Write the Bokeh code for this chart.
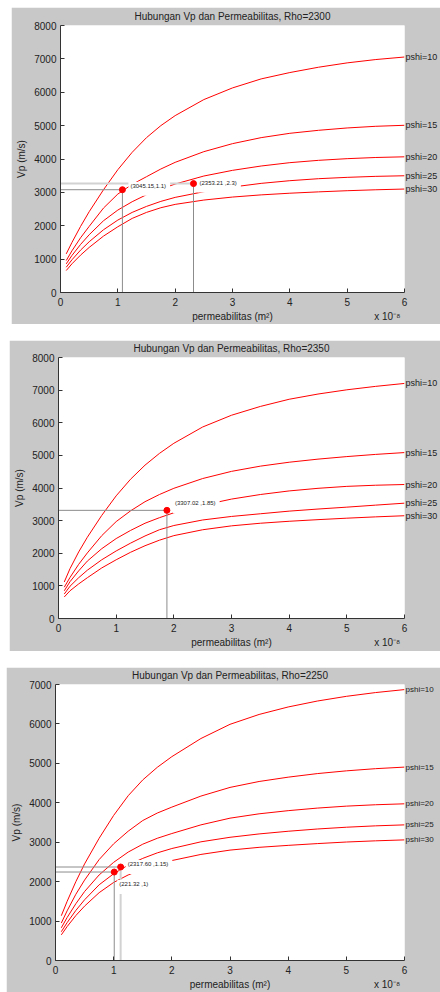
from bokeh.plotting import figure
from bokeh.layouts import column
from bokeh.models import Range1d, FixedTicker, Label, LinearAxis
from bokeh.embed import file_html
from bokeh.resources import INLINE

# ---------------- data ----------------
# permeability in units of 1e-8 m^2
perm = [0.1, 0.2, 0.35, 0.5, 0.75, 1.0, 1.25, 1.5, 1.75, 2.0, 2.5, 3.0, 3.5, 4.0, 4.5, 5.0, 5.5, 6.0]
pshi_names = ["pshi=10", "pshi=15", "pshi=20", "pshi=25", "pshi=30"]
x_ticks = [0, 1, 2, 3, 4, 5, 6]
y_ticks_8000 = [0, 1000, 2000, 3000, 4000, 5000, 6000, 7000, 8000]
y_ticks_7000 = [0, 1000, 2000, 3000, 4000, 5000, 6000, 7000]
x_title = "permeabilitas (m²)"
x_scale_note = "x 10⁻⁸"
y_title = "Vp (m/s)"

# Rho = 2300
vp2300_p10 = [1157, 1500, 1980, 2420, 3080, 3680, 4200, 4640, 5000, 5300, 5780, 6130, 6400, 6590, 6750, 6880, 6980, 7056]
vp2300_p15 = [957, 1250, 1640, 1980, 2530, 2950, 3240, 3470, 3700, 3900, 4220, 4460, 4640, 4770, 4860, 4930, 4980, 5010]
vp2300_p20 = [858, 1110, 1440, 1730, 2150, 2470, 2720, 2930, 3100, 3250, 3490, 3660, 3790, 3890, 3960, 4010, 4045, 4066]
vp2300_p25 = [757, 980, 1270, 1520, 1880, 2170, 2400, 2580, 2730, 2850, 3020, 3160, 3270, 3350, 3410, 3450, 3480, 3498]
vp2300_p30 = [658, 860, 1120, 1350, 1690, 1970, 2220, 2400, 2540, 2640, 2770, 2860, 2925, 2975, 3015, 3050, 3078, 3100]
pts2300_k = [1.08, 2.32]
pts2300_vp = [3080, 3263]
pts2300_txt = ["(3045.15,1.1)", "(2353.21 ,2.3)"]

# Rho = 2350
vp2350_p10 = [1120, 1530, 2040, 2490, 3160, 3760, 4270, 4700, 5060, 5370, 5870, 6230, 6500, 6720, 6880, 7010, 7115, 7205]
vp2350_p15 = [960, 1260, 1660, 2010, 2540, 2970, 3300, 3580, 3800, 3990, 4290, 4510, 4670, 4790, 4885, 4963, 5030, 5086]
vp2350_p20 = [850, 1130, 1460, 1760, 2140, 2450, 2700, 2920, 3090, 3240, 3470, 3660, 3800, 3910, 3990, 4050, 4085, 4107]
vp2350_p25 = [750, 990, 1250, 1480, 1800, 2070, 2310, 2530, 2720, 2850, 3020, 3128, 3210, 3291, 3355, 3413, 3475, 3535]
vp2350_p30 = [660, 850, 1060, 1250, 1550, 1800, 2030, 2230, 2400, 2540, 2720, 2840, 2920, 2980, 3030, 3075, 3115, 3150]
pts2350_k = [1.88]
pts2350_vp = [3315]
pts2350_txt = ["(3307.02 ,1.85)"]

# Rho = 2250
vp2250_p10 = [1136, 1500, 2000, 2450, 3100, 3680, 4180, 4580, 4900, 5170, 5630, 5990, 6240, 6430, 6580, 6700, 6795, 6871]
vp2250_p15 = [950, 1260, 1680, 2040, 2560, 2960, 3280, 3550, 3740, 3890, 4170, 4390, 4540, 4650, 4740, 4810, 4865, 4905]
vp2250_p20 = [830, 1090, 1440, 1750, 2170, 2490, 2750, 2950, 3100, 3220, 3440, 3610, 3720, 3800, 3865, 3915, 3950, 3974]
vp2250_p25 = [730, 960, 1270, 1540, 1920, 2200, 2420, 2590, 2730, 2840, 3010, 3125, 3210, 3278, 3335, 3380, 3415, 3440]
vp2250_p30 = [650, 860, 1140, 1380, 1720, 1980, 2170, 2320, 2440, 2535, 2690, 2800, 2870, 2920, 2965, 3005, 3035, 3059]
pts2250_k = [1.01, 1.12]
pts2250_vp = [2244, 2371]
pts2250_txt = ["(221.32 ,1)", "(2317.60 ,1.15)"]

# ---------------- style ----------------
GREY = "#c8c8c8"
FONT = "Liberation Sans"
RED = "#ff0000"
DARK_LINE = "#8c8c8c"
LIGHT_LINE = "#d2d2d2"
TXT = "#222222"


def bare_axis(ax, size):
    ax.axis_line_color = None
    ax.major_tick_line_color = None
    ax.minor_tick_line_color = None
    ax.major_tick_in = 0
    ax.major_tick_out = 0
    ax.axis_label_standoff = 0
    ax.major_label_text_font = FONT
    ax.major_label_text_font_size = size
    ax.major_label_text_color = TXT


def panel(rho, curves, ymax, yticks, pk, pvp, ptxt, hstyle, vstyle, offsets,
          w, h, borders, margin, pshi_size):
    left, right, top, bottom = borders
    p = figure(width=w, height=h, x_range=Range1d(0, 6), y_range=Range1d(0, ymax),
               output_backend="svg", toolbar_location=None,
               min_border_left=left, min_border_right=right,
               min_border_top=top, min_border_bottom=bottom,
               background_fill_color="white", border_fill_color=GREY,
               outline_line_color=None, margin=margin)
    p.title.text = f"Hubungan Vp dan Permeabilitas, Rho={rho}"
    p.title.align = "center"
    p.title.vertical_align = "top"
    p.title.text_font = FONT
    p.title.text_font_size = "10px"
    p.title.text_font_style = "normal"
    p.title.text_color = TXT
    p.title.standoff = 4
    p.xgrid.visible = False
    p.ygrid.visible = False

    xax = p.xaxis[0]
    yax = p.yaxis[0]
    for ax in (xax, yax):
        ax.major_tick_in = 4
        ax.major_tick_out = 0
        ax.minor_tick_line_color = None
        ax.axis_line_color = "#333333"
        ax.major_tick_line_color = "#333333"
        ax.major_label_text_font = FONT
        ax.major_label_text_font_size = "10px"
        ax.major_label_text_color = TXT
        ax.axis_label_text_font = FONT
        ax.axis_label_text_font_size = "10px"
        ax.axis_label_text_font_style = "normal"
        ax.axis_label_text_color = TXT
    xax.ticker = FixedTicker(ticks=x_ticks)
    yax.ticker = FixedTicker(ticks=yticks)
    yax.axis_label = y_title
    xax.major_label_standoff = 5
    yax.major_label_standoff = 4
    yax.axis_label_standoff = 4

    # second row under the x axis: axis title (centred) and the scale note
    bax = LinearAxis(ticker=FixedTicker(ticks=[3, 5.7]),
                     major_label_overrides={3: x_title, 5.7: x_scale_note})
    bare_axis(bax, "10px")
    bax.major_label_standoff = 2
    p.add_layout(bax, "below")

    # curve-end labels as a bare right axis
    ends = [vals[-1] for vals in curves]
    rax = LinearAxis(ticker=FixedTicker(ticks=ends),
                     major_label_overrides={e: n for e, n in zip(ends, pshi_names)})
    bare_axis(rax, pshi_size)
    rax.major_label_standoff = 1
    p.add_layout(rax, "right")

    for vals in curves:
        p.line(perm, vals, line_color=RED, line_width=1)

    for i, (k, v) in enumerate(zip(pk, pvp)):
        hc, hw = hstyle[i]
        vc, vw = vstyle[i]
        p.line([0, k], [v, v], line_color=hc, line_width=hw)
        p.line([k, k], [0, v], line_color=vc, line_width=vw)

    for (k, v, t, (dx, dy)) in zip(pk, pvp, ptxt, offsets):
        p.add_layout(Label(x=k, y=v, text=t, x_offset=dx, y_offset=dy,
                           text_align="left", text_baseline="middle",
                           text_font=FONT, text_font_size="6px", text_color=TXT,
                           background_fill_color="white",
                           padding=dict(left=2, right=4, top=1, bottom=7)))

    pts = p.scatter(pk, pvp, size=6, fill_color=RED, line_color=RED)
    pts.level = "overlay"
    return p


p1 = panel(2300, [vp2300_p10, vp2300_p15, vp2300_p20, vp2300_p25, vp2300_p30],
           8000, y_ticks_8000, pts2300_k, pts2300_vp, pts2300_txt,
           [(DARK_LINE, 1), (LIGHT_LINE, 2)], [(DARK_LINE, 1), (DARK_LINE, 1)],
           [(6, 1), (4, -2)],
           429, 317, (47, 34, 18, 32), (7, 0, 0, 11), "9px")

p2 = panel(2350, [vp2350_p10, vp2350_p15, vp2350_p20, vp2350_p25, vp2350_p30],
           8000, y_ticks_8000, pts2350_k, pts2350_vp, pts2350_txt,
           [(DARK_LINE, 1)], [(DARK_LINE, 1)],
           [(6, 4)],
           431, 311, (49, 35, 17, 33), (16, 0, 0, 9), "9px")

p3 = panel(2250, [vp2250_p10, vp2250_p15, vp2250_p20, vp2250_p25, vp2250_p30],
           7000, y_ticks_7000, pts2250_k, pts2250_vp, pts2250_txt,
           [(DARK_LINE, 1), (DARK_LINE, 1)], [(DARK_LINE, 1), (LIGHT_LINE, 2)],
           [(3, -15), (5, 0)],
           434, 325, (46, 30, 17, 32), (16, 0, 0, 6), "8px")

layout = column(p1, p2, p3, spacing=0)
open("out.html", "w").write(file_html(layout, INLINE))
